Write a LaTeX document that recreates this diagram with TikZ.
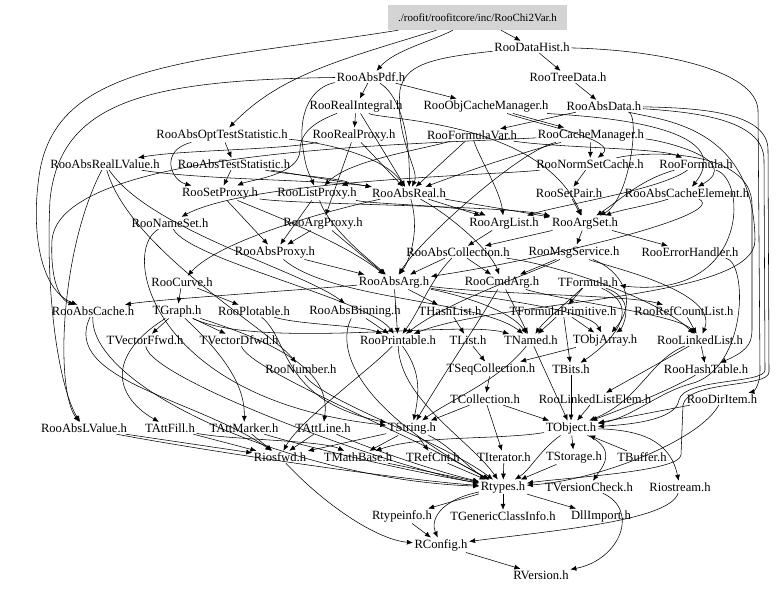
\documentclass[tikz,border=0pt]{standalone}
\usepackage{fontspec}
\setmainfont{Liberation Serif}
\usetikzlibrary{arrows.meta}
\begin{document}
\begin{tikzpicture}[x=1pt,y=-1pt,
  n/.style={font=\fontsize{12.6}{14}\selectfont, inner sep=1.5pt},
  e/.style={-{Latex[length=6pt,width=5pt]}, line width=0.55pt}]
\useasboundingbox (0,0) rectangle (779,591);
\node[fill=black!17, minimum width=179pt, minimum height=25pt, inner sep=0pt, font=\fontsize{11}{13}\selectfont] (root) at (477.5,17.5) {./roofit/roofitcore/inc/RooChi2Var.h};
\node[n] (DataHist) at (532,47) {RooDataHist.h};
\node[n] (AbsPdf) at (371,77) {RooAbsPdf.h};
\node[n] (TreeData) at (568,77) {RooTreeData.h};
\node[n] (RealIntegral) at (356,106) {RooRealIntegral.h};
\node[n] (ObjCacheManager) at (486,106) {RooObjCacheManager.h};
\node[n] (AbsData) at (604,106) {RooAbsData.h};
\node[n] (AbsOptTestStatistic) at (222,135) {RooAbsOptTestStatistic.h};
\node[n] (RealProxy) at (354,135) {RooRealProxy.h};
\node[n] (FormulaVar) at (472,135) {RooFormulaVar.h};
\node[n] (CacheManager) at (591,135) {RooCacheManager.h};
\node[n] (AbsRealLValue) at (105,164) {RooAbsRealLValue.h};
\node[n] (AbsTestStatistic) at (234,164) {RooAbsTestStatistic.h};
\node[n] (NormSetCache) at (590,164) {RooNormSetCache.h};
\node[n] (Formula) at (696,164) {RooFormula.h};
\node[n] (SetProxy) at (220,193) {RooSetProxy.h};
\node[n] (ListProxy) at (317,193) {RooListProxy.h};
\node[n] (AbsReal) at (409,193) {RooAbsReal.h};
\node[n] (SetPair) at (569,193) {RooSetPair.h};
\node[n] (AbsCacheElement) at (687,193) {RooAbsCacheElement.h};
\node[n] (NameSet) at (170,223) {RooNameSet.h};
\node[n] (ArgProxy) at (323,223) {RooArgProxy.h};
\node[n] (ArgList) at (504,223) {RooArgList.h};
\node[n] (ArgSet) at (585,223) {RooArgSet.h};
\node[n] (AbsProxy) at (275,252) {RooAbsProxy.h};
\node[n] (AbsCollection) at (458,252) {RooAbsCollection.h};
\node[n] (MsgService) at (574,252) {RooMsgService.h};
\node[n] (ErrorHandler) at (690,252) {RooErrorHandler.h};
\node[n] (Curve) at (182,282) {RooCurve.h};
\node[n] (AbsArg) at (394,282) {RooAbsArg.h};
\node[n] (CmdArg) at (502,282) {RooCmdArg.h};
\node[n] (TFormula) at (588,282) {TFormula.h};
\node[n] (AbsCache) at (93,311) {RooAbsCache.h};
\node[n] (TGraph) at (177,311) {TGraph.h};
\node[n] (Plotable) at (254,311) {RooPlotable.h};
\node[n] (AbsBinning) at (355,311) {RooAbsBinning.h};
\node[n] (THashList) at (450,311) {THashList.h};
\node[n] (TFormulaPrimitive) at (563,311) {TFormulaPrimitive.h};
\node[n] (RefCountList) at (684,311) {RooRefCountList.h};
\node[n] (TVectorFfwd) at (145,340) {TVectorFfwd.h};
\node[n] (TVectorDfwd) at (239,340) {TVectorDfwd.h};
\node[n] (Printable) at (398,340) {RooPrintable.h};
\node[n] (TList) at (468,340) {TList.h};
\node[n] (TNamed) at (531,340) {TNamed.h};
\node[n] (TObjArray) at (605,340) {TObjArray.h};
\node[n] (LinkedList) at (700,340) {RooLinkedList.h};
\node[n] (Number) at (301,369) {RooNumber.h};
\node[n] (TSeqCollection) at (491,369) {TSeqCollection.h};
\node[n] (TBits) at (571,369) {TBits.h};
\node[n] (HashTable) at (706,369) {RooHashTable.h};
\node[n] (TCollection) at (485,399) {TCollection.h};
\node[n] (LinkedListElem) at (595,399) {RooLinkedListElem.h};
\node[n] (DirItem) at (722,399) {RooDirItem.h};
\node[n] (AbsLValue) at (84,428) {RooAbsLValue.h};
\node[n] (TAttFill) at (170,428) {TAttFill.h};
\node[n] (TAttMarker) at (244,428) {TAttMarker.h};
\node[n] (TAttLine) at (323,428) {TAttLine.h};
\node[n] (TString) at (412,428) {TString.h};
\node[n] (TObject) at (571,428) {TObject.h};
\node[n] (Riosfwd) at (280,457) {Riosfwd.h};
\node[n] (TMathBase) at (358,457) {TMathBase.h};
\node[n] (TRefCnt) at (433,457) {TRefCnt.h};
\node[n] (TIterator) at (504,457) {TIterator.h};
\node[n] (TStorage) at (574,457) {TStorage.h};
\node[n] (TBuffer) at (642,457) {TBuffer.h};
\node[n] (Rtypes) at (503,487) {Rtypes.h};
\node[n] (TVersionCheck) at (589,487) {TVersionCheck.h};
\node[n] (Riostream) at (680,487) {Riostream.h};
\node[n] (Rtypeinfo) at (402,516) {Rtypeinfo.h};
\node[n] (TGenericClassInfo) at (503,516) {TGenericClassInfo.h};
\node[n] (DllImport) at (601,516) {DllImport.h};
\node[n] (RConfig) at (441,545) {RConfig.h};
\node[n] (RVersion) at (541,575) {RVersion.h};

% ---- edges ----
\draw[e] (root) -- (DataHist);
\draw[e] (root) .. controls (430,42) and (395,50) .. (AbsPdf);
\draw[e] (root) .. controls (340,60) and (280,75) .. (AbsOptTestStatistic);
\draw[e] (root) .. controls (200,62) and (60,60) .. (40,170) .. controls (30,230) and (40,290) .. (AbsCache);
\draw[e] (DataHist) -- (TreeData);
\draw[e] (DataHist) .. controls (660,50) and (756,70) .. (758,110) -- (760,370) .. controls (760,388) and (752,392) .. (DirItem);
\draw[e] (DataHist) .. controls (430,58) and (405,65) .. (400,90) .. controls (395,140) and (420,170) .. (AbsReal);
\draw[e] (TreeData) -- (AbsData);
\draw[e] (AbsData) -- (FormulaVar);
\draw[e] (AbsData) .. controls (700,108) and (768,112) .. (768,150) -- (769,372) .. controls (769,388) and (688,380) .. (683,405) -- (681,455) .. controls (680,472) and (560,478) .. (Rtypes);
\draw[e] (AbsData) .. controls (690,112) and (764,118) .. (764,160) -- (765,370) .. controls (765,384) and (684,378) .. (679,400) .. controls (676,418) and (640,424) .. (TObject);
\draw[e] (AbsData) .. controls (640,115) and (630,200) .. (ArgSet);
\draw[e] (AbsData) .. controls (660,120) and (754,125) .. (755,240) .. controls (756,300) and (500,300) .. (Printable);
\draw[e] (AbsPdf) -- (RealIntegral);
\draw[e] (AbsPdf) -- (ObjCacheManager);
\draw[e] (AbsPdf) .. controls (405,100) and (410,150) .. (AbsReal);
\draw[e] (AbsPdf) .. controls (320,85) and (300,100) .. (302,140) .. controls (305,170) and (310,175) .. (ListProxy);
\draw[e] (AbsPdf) .. controls (150,80) and (60,100) .. (50,200) .. controls (45,300) and (60,390) .. (AbsLValue);
\draw[e] (RealIntegral) -- (AbsReal);
\draw[e] (RealIntegral) .. controls (320,120) and (300,130) .. (300,150) .. controls (300,175) and (250,180) .. (SetProxy);
\draw[e] (RealIntegral) .. controls (380,120) and (540,120) .. (ArgSet);
\draw[e] (RealIntegral) -- (RealProxy);
\draw[e] (ObjCacheManager) -- (CacheManager);
\draw[e] (ObjCacheManager) .. controls (540,125) and (620,140) .. (NormSetCache);
\draw[e] (ObjCacheManager) .. controls (560,115) and (745,120) .. (AbsCacheElement);
\draw[e] (AbsOptTestStatistic) -- (AbsTestStatistic);
\draw[e] (AbsOptTestStatistic) .. controls (160,150) and (170,180) .. (SetProxy);
\draw[e] (AbsOptTestStatistic) .. controls (300,140) and (380,150) .. (AbsReal);
\draw[e] (AbsTestStatistic) -- (AbsReal);
\draw[e] (AbsTestStatistic) -- (SetProxy);
\draw[e] (AbsTestStatistic) .. controls (290,175) and (360,180) .. (ListProxy);
\draw[e] (RealProxy) -- (ArgProxy);
\draw[e] (RealProxy) .. controls (280,150) and (180,150) .. (AbsRealLValue);
\draw[e] (RealProxy) -- (AbsReal);
\draw[e] (FormulaVar) -- (AbsReal);
\draw[e] (FormulaVar) .. controls (560,148) and (660,148) .. (Formula);
\draw[e] (FormulaVar) .. controls (480,160) and (500,190) .. (ArgList);
\draw[e] (FormulaVar) .. controls (420,150) and (350,160) .. (ListProxy);
\draw[e] (CacheManager) -- (NormSetCache);
\draw[e] (CacheManager) .. controls (530,150) and (470,170) .. (AbsReal);
\draw[e] (CacheManager) .. controls (660,140) and (745,160) .. (AbsCacheElement);
\draw[e] (CacheManager) .. controls (520,150) and (420,240) .. (AbsArg);
\draw[e] (CacheManager) .. controls (400,145) and (60,150) .. (52,240) .. controls (50,280) and (60,300) .. (AbsCache);
\draw[e] (AbsRealLValue) .. controls (200,180) and (330,180) .. (AbsReal);
\draw[e] (AbsRealLValue) .. controls (60,250) and (55,390) .. (AbsLValue);
\draw[e] (AbsRealLValue) .. controls (130,250) and (270,330) .. (Number);
\draw[e] (AbsRealLValue) .. controls (150,230) and (300,270) .. (AbsBinning);
\draw[e] (NormSetCache) -- (SetPair);
\draw[e] (NormSetCache) .. controls (650,150) and (752,150) .. (752,205) -- (752,330) .. controls (752,345) and (745,352) .. (HashTable);
\draw[e] (NormSetCache) .. controls (500,175) and (250,180) .. (NameSet);
\draw[e] (Formula) .. controls (640,180) and (620,200) .. (ArgSet);
\draw[e] (Formula) .. controls (660,190) and (560,205) .. (ArgList);
\draw[e] (Formula) .. controls (748,180) and (748,300) .. (TFormula);
\draw[e] (SetProxy) -- (AbsProxy);
\draw[e] (SetProxy) .. controls (260,210) and (340,240) .. (AbsArg);
\draw[e] (SetProxy) .. controls (300,205) and (500,205) .. (ArgSet);
\draw[e] (ListProxy) -- (AbsProxy);
\draw[e] (ListProxy) .. controls (330,230) and (370,260) .. (AbsArg);
\draw[e] (ListProxy) .. controls (380,205) and (460,205) .. (ArgList);
\draw[e] (AbsReal) .. controls (420,230) and (410,260) .. (AbsArg);
\draw[e] (AbsReal) .. controls (450,215) and (490,250) .. (CmdArg);
\draw[e] (AbsReal) .. controls (330,210) and (220,240) .. (Curve);
\draw[e] (AbsReal) -- (ArgSet);
\draw[e] (AbsReal) -- (ArgList);
\draw[e] (SetPair) -- (ArgSet);
\draw[e] (AbsCacheElement) .. controls (650,205) and (620,210) .. (ArgSet);
\draw[e] (AbsCacheElement) .. controls (730,215) and (540,260) .. (AbsArg);
\draw[e] (NameSet) .. controls (190,260) and (370,300) .. (Printable);
\draw[e] (NameSet) .. controls (120,250) and (150,400) .. (TString);
\draw[e] (ArgProxy) -- (AbsProxy);
\draw[e] (ArgProxy) -- (AbsArg);
\draw[e] (ArgList) -- (AbsCollection);
\draw[e] (ArgSet) -- (AbsCollection);
\draw[e] (ArgSet) -- (ErrorHandler);
\draw[e] (ArgSet) -- (MsgService);
\draw[e] (AbsProxy) -- (AbsArg);
\draw[e] (AbsProxy) .. controls (330,300) and (480,300) .. (TNamed);
\draw[e] (AbsCollection) -- (AbsArg);
\draw[e] (AbsCollection) -- (CmdArg);
\draw[e] (AbsCollection) .. controls (430,280) and (420,310) .. (Printable);
\draw[e] (AbsCollection) .. controls (560,265) and (660,300) .. (LinkedList);
\draw[e] (MsgService) -- (CmdArg);
\draw[e] (MsgService) .. controls (600,265) and (720,290) .. (LinkedList);
\draw[e] (MsgService) .. controls (540,270) and (450,300) .. (Printable);
\draw[e] (MsgService) .. controls (620,270) and (640,300) .. (TObjArray);
\draw[e] (ErrorHandler) .. controls (748,262) and (748,370) .. (690,384) .. controls (660,392) and (630,418) .. (TObject);
\draw[e] (Curve) -- (TGraph);
\draw[e] (Curve) -- (Plotable);
\draw[e] (AbsArg) -- (THashList);
\draw[e] (AbsArg) -- (Printable);
\draw[e] (AbsArg) .. controls (500,295) and (630,295) .. (RefCountList);
\draw[e] (AbsArg) .. controls (300,290) and (150,300) .. (AbsCache);
\draw[e] (AbsArg) .. controls (460,295) and (510,310) .. (TNamed);
\draw[e] (AbsArg) .. controls (500,300) and (590,310) .. (TObjArray);
\draw[e] (CmdArg) -- (TNamed);
\draw[e] (CmdArg) .. controls (480,320) and (440,380) .. (TString);
\draw[e] (CmdArg) .. controls (560,300) and (680,315) .. (LinkedList);
\draw[e] (TFormula) -- (TFormulaPrimitive);
\draw[e] (TFormula) .. controls (570,300) and (545,320) .. (TNamed);
\draw[e] (TFormula) .. controls (640,300) and (620,330) .. (TObjArray);
\draw[e] (TFormula) .. controls (650,310) and (600,350) .. (TBits);
\draw[e] (AbsCache) .. controls (90,390) and (300,480) .. (Rtypes);
\draw[e] (AbsCache) .. controls (60,380) and (200,400) .. (Riosfwd);
\draw[e] (TGraph) -- (TVectorFfwd);
\draw[e] (TGraph) -- (TVectorDfwd);
\draw[e] (TGraph) .. controls (260,350) and (460,320) .. (TNamed);
\draw[e] (TGraph) .. controls (100,360) and (120,400) .. (TAttFill);
\draw[e] (TGraph) .. controls (230,360) and (245,390) .. (TAttMarker);
\draw[e] (TGraph) .. controls (300,350) and (330,380) .. (TAttLine);
\draw[e] (Plotable) .. controls (300,325) and (360,325) .. (Printable);
\draw[e] (Plotable) .. controls (290,340) and (280,400) .. (TString);
\draw[e] (AbsBinning) -- (Printable);
\draw[e] (AbsBinning) .. controls (340,340) and (340,400) .. (Rtypes);
\draw[e] (THashList) -- (TList);
\draw[e] (TFormulaPrimitive) -- (TNamed);
\draw[e] (TFormulaPrimitive) -- (TBits);
\draw[e] (TFormulaPrimitive) -- (TObjArray);
\draw[e] (RefCountList) -- (LinkedList);
\draw[e] (TVectorFfwd) .. controls (150,380) and (400,470) .. (Rtypes);
\draw[e] (TVectorDfwd) .. controls (250,370) and (400,430) .. (Rtypes);
\draw[e] (Printable) .. controls (370,370) and (300,420) .. (Riosfwd);
\draw[e] (Printable) .. controls (420,370) and (420,390) .. (TString);
\draw[e] (Printable) .. controls (400,400) and (470,440) .. (Rtypes);
\draw[e] (TList) -- (TSeqCollection);
\draw[e] (TNamed) -- (TObject);
\draw[e] (TNamed) .. controls (500,380) and (450,400) .. (TString);
\draw[e] (TObjArray) -- (TSeqCollection);
\draw[e] (LinkedList) -- (HashTable);
\draw[e] (LinkedList) -- (LinkedListElem);
\draw[e] (LinkedList) .. controls (650,360) and (640,400) .. (TObject);
\draw[e] (Number) .. controls (320,400) and (440,440) .. (Rtypes);
\draw[e] (TSeqCollection) -- (TCollection);
\draw[e] (TBits) -- (TObject);
\draw[e] (HashTable) .. controls (670,390) and (620,410) .. (TObject);
\draw[e] (TCollection) -- (TObject);
\draw[e] (TCollection) -- (TIterator);
\draw[e] (TCollection) -- (TString);
\draw[e] (LinkedListElem) -- (TObject);
\draw[e] (DirItem) -- (TObject);
\draw[e] (DirItem) .. controls (700,440) and (600,480) .. (Rtypes);
\draw[e] (AbsLValue) -- (Riosfwd);
\draw[e] (AbsLValue) .. controls (200,450) and (400,480) .. (Rtypes);
\draw[e] (TAttFill) -- (Riosfwd);
\draw[e] (TAttFill) .. controls (230,440) and (320,440) .. (TMathBase);
\draw[e] (TAttMarker) -- (Riosfwd);
\draw[e] (TAttMarker) .. controls (300,445) and (400,470) .. (Rtypes);
\draw[e] (TAttLine) -- (Riosfwd);
\draw[e] (TAttLine) .. controls (360,445) and (430,470) .. (Rtypes);
\draw[e] (TString) -- (TMathBase);
\draw[e] (TString) -- (TRefCnt);
\draw[e] (TString) -- (Riosfwd);
\draw[e] (TString) .. controls (450,445) and (470,470) .. (Rtypes);
\draw[e] (TObject) -- (TStorage);
\draw[e] (TObject) .. controls (540,450) and (530,470) .. (Rtypes);
\draw[e] (TObject) .. controls (500,440) and (420,435) .. (TMathBase);
\draw[e] (TObject) .. controls (640,430) and (670,440) .. (Riostream);
\draw[e] (TObject) .. controls (620,450) and (600,470) .. (TVersionCheck);
\draw[e] (TBuffer) -- (TObject);
\draw[e] (Riosfwd) .. controls (330,510) and (380,540) .. (RConfig);
\draw[e] (TMathBase) -- (Rtypes);
\draw[e] (TRefCnt) -- (Rtypes);
\draw[e] (TIterator) -- (Rtypes);
\draw[e] (TStorage) -- (Rtypes);
\draw[e] (Rtypes) .. controls (440,500) and (430,520) .. (RConfig);
\draw[e] (Rtypes) -- (Rtypeinfo);
\draw[e] (Rtypes) -- (TGenericClassInfo);
\draw[e] (Rtypes) -- (DllImport);
\draw[e] (TVersionCheck) .. controls (640,510) and (620,560) .. (RVersion);
\draw[e] (Riostream) .. controls (670,520) and (560,530) .. (RConfig);
\draw[e] (Rtypeinfo) -- (RConfig);
\draw[e] (RConfig) -- (RVersion);
\end{tikzpicture}
\end{document}
